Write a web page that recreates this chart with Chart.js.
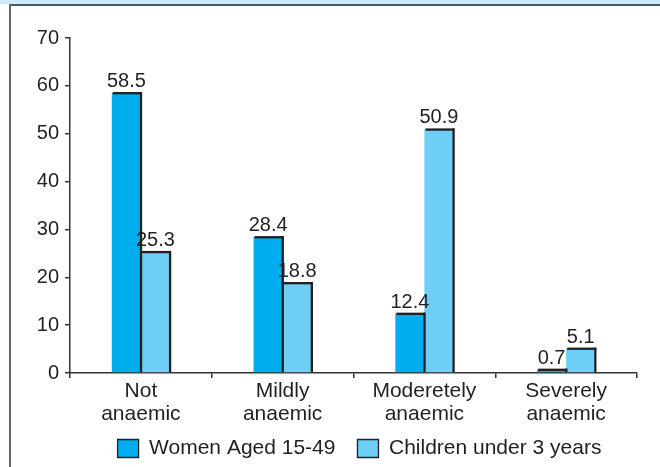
<!DOCTYPE html>
<html>
<head>
<meta charset="utf-8">
<script src="https://cdn.jsdelivr.net/npm/chart.js@4.4.1/dist/chart.umd.min.js"></script>
<style>
  html, body { margin: 0; padding: 0; background: #ffffff; }
  #wrap { position: relative; width: 660px; height: 467px; overflow: hidden; }
  #band { position: absolute; left: 0; top: 0; width: 660px; height: 4px; background: #c8eaf9; }
  #topline { position: absolute; left: 9px; top: 4px; width: 651px; height: 2px; background: #4d5b5c; }
  #leftline { position: absolute; left: 9px; top: 4px; width: 2px; height: 463px; background: #666666; }
  canvas { position: absolute; left: 0; top: 0; }
</style>
</head>
<body>
<div id="wrap">
  <canvas id="c" width="660" height="467"></canvas>
  <div id="band"></div>
  <div id="topline"></div>
  <div id="leftline"></div>
</div>
<script>
const categories = [["Not", "anaemic"], ["Mildly", "anaemic"], ["Moderetely", "anaemic"], ["Severely", "anaemic"]];
const seriesNames = ["Women Aged 15-49", "Children under 3 years"];
const women = [58.5, 28.4, 12.4, 0.7];
const children = [25.3, 18.8, 50.9, 5.1];
const yMin = 0, yMax = 70, yStep = 10;

const textColor = '#231f20';
const fontFamily = '"Liberation Sans", Arial, Helvetica, sans-serif';

// top + right outline of each bar, and value labels above them
const barDecor = {
  id: 'barDecor',
  afterDatasetsDraw(chart) {
    const ctx = chart.ctx;
    ctx.save();
    chart.data.datasets.forEach((ds, i) => {
      const meta = chart.getDatasetMeta(i);
      meta.data.forEach((el) => {
        const left = el.x - el.width / 2;
        const right = el.x + el.width / 2;
        ctx.fillStyle = textColor;
        ctx.fillRect(left + 1, el.y - 1, right - left, 2.3);
        ctx.fillRect(right - 1, el.y - 1, 2.3, el.base - el.y + 1);
      });
    });
    ctx.font = '20px ' + fontFamily;
    ctx.fillStyle = textColor;
    ctx.textAlign = 'center';
    ctx.textBaseline = 'alphabetic';
    chart.data.datasets.forEach((ds, i) => {
      const meta = chart.getDatasetMeta(i);
      meta.data.forEach((el, j) => {
        ctx.fillText(String(ds.data[j]), el.x, el.y - 6);
      });
    });
    ctx.restore();
  }
};

// fine placement of the legend and room for the two-line category labels
const layoutTweak = {
  id: 'layoutTweak',
  afterLayout(chart) {
    if (chart.legend) {
      chart.legend.left += 6;
      chart.legend.right += 6;
      chart.legend.top += 2;
      chart.legend.bottom += 2;
    }
    const x = chart.scales.x;
    if (x) { x.bottom = x.top + 62; }
  }
};

new Chart(document.getElementById('c'), {
  type: 'bar',
  data: {
    labels: categories,
    datasets: [
      {
        label: seriesNames[0],
        data: women,
        backgroundColor: '#00aeef',
        borderWidth: 0,
        barPercentage: 1.0,
        categoryPercentage: 0.41
      },
      {
        label: seriesNames[1],
        data: children,
        backgroundColor: '#6dcff6',
        borderWidth: 0,
        barPercentage: 1.0,
        categoryPercentage: 0.41
      }
    ]
  },
  options: {
    responsive: false,
    animation: false,
    devicePixelRatio: 1,
    layout: { padding: { top: 38, right: 23, left: 0, bottom: 0 } },
    plugins: {
      legend: {
        position: 'bottom',
        fullSize: false,
        labels: {
          color: textColor,
          font: { family: fontFamily, size: 21 },
          boxWidth: 21,
          boxHeight: 18,
          padding: 22,
          generateLabels(chart) {
            const items = Chart.defaults.plugins.legend.labels.generateLabels(chart);
            return items.map(it => Object.assign(it, { lineWidth: 1.3, strokeStyle: textColor }));
          }
        }
      },
      tooltip: { enabled: false }
    },
    scales: {
      x: {
        offset: true,
        grid: {
          offset: true,
          drawOnChartArea: false,
          drawTicks: true,
          tickLength: 5,
          color: '#333333',
          lineWidth: 1.5
        },
        border: { display: true, color: '#333333', width: 1.5 },
        ticks: {
          color: textColor,
          font: { family: fontFamily, size: 21, lineHeight: 1.1 },
          padding: 2,
          maxRotation: 0,
          autoSkip: false
        },
        afterFit(scale) { scale.height = 41; }
      },
      y: {
        min: yMin,
        max: yMax,
        grid: {
          drawOnChartArea: false,
          drawTicks: true,
          tickLength: 5,
          color: '#333333',
          lineWidth: 1.5
        },
        border: { display: true, color: '#333333', width: 1.5 },
        ticks: {
          stepSize: yStep,
          color: textColor,
          font: { family: fontFamily, size: 20 },
          padding: 6
        },
        afterFit(scale) { scale.width = 70; }
      }
    }
  },
  plugins: [barDecor, layoutTweak]
});
</script>
</body>
</html>
